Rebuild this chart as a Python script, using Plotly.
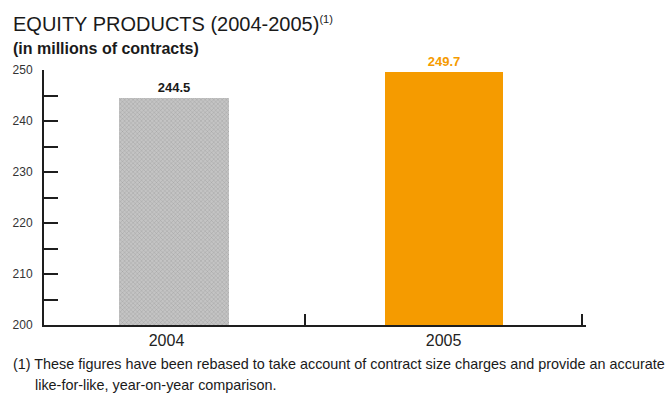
import plotly.graph_objects as go

# Equity products volume, in millions of contracts
years = ["2004", "2005"]
volumes = [244.5, 249.7]
value_labels = ["244.5", "249.7"]
bar_colors = ["#c4c4c4", "#f59b00"]
label_colors = ["#1a1a1a", "#f59b00"]

y_ticks = [200, 210, 220, 230, 240, 250]
y_tick_text = ["200", "210", "220", "230", "240", "250"]

title_text = "EQUITY PRODUCTS (2004-2005)<sup><span style='font-size:11px'>(1)</span></sup>"
subtitle_text = "<b>(in millions of contracts)</b>"
footnote_first = "(1) These figures have been rebased to take account of contract size charges and provide an accurate"
footnote_second = "like-for-like, year-on-year comparison."

FONT = "Liberation Sans, Arial, sans-serif"
AXIS = "#1e1e1e"
TEXT = "#1a1a1a"

# plot area in pixels: x 44..586, y 70..325
PW, PH = 542, 255


def px_x(px):
    return (px - 44) / PW


def px_y(py):
    return (325 - py) / PH


fig = go.Figure()
fig.add_trace(go.Bar(
    x=years,
    y=volumes,
    base=0,
    width=[0.397, 0.426],
    offset=[-0.171, -0.211],
    marker=dict(
        color=bar_colors,
        line=dict(width=0),
        pattern=dict(shape=["x", ""], size=3, solidity=0.15,
                     fgcolor="#b4b4b4", bgcolor=bar_colors),
    ),
    text=value_labels,
    textposition="outside",
    textfont=dict(family=FONT, size=13, color=label_colors),
    texttemplate="<b>%{text}</b>",
    cliponaxis=False,
    hoverinfo="skip",
))

fig.update_layout(
    width=665,
    height=396,
    margin=dict(l=44, r=79, t=70, b=71),
    paper_bgcolor="white",
    plot_bgcolor="white",
    showlegend=False,
    font=dict(family=FONT, color=TEXT),
    bargap=0,
)

fig.update_xaxes(
    type="category",
    range=[-0.442, 1.514],
    showline=True, linecolor=AXIS, linewidth=2,
    ticks="inside", tickson="boundaries", ticklen=11, tickwidth=2, tickcolor=AXIS,
    showgrid=False, zeroline=False,
    tickfont=dict(family=FONT, size=16, color="#222"),
)
fig.update_yaxes(
    range=[200, 250],
    tickvals=y_ticks, ticktext=y_tick_text,
    showline=True, linecolor=AXIS, linewidth=2,
    ticks="inside", ticklen=14, tickwidth=2, tickcolor=AXIS,
    minor=dict(ticks="inside", dtick=5, ticklen=14, tickwidth=2, tickcolor=AXIS,
               showgrid=False),
    showgrid=False, zeroline=False,
    ticklabelstandoff=7,
    tickfont=dict(family=FONT, size=12, color="#333"),
)

fig.add_annotation(
    text=title_text, xref="paper", yref="paper",
    x=px_x(11), y=px_y(24), xanchor="left", yanchor="middle",
    showarrow=False, font=dict(family=FONT, size=20, color=TEXT),
)
fig.add_annotation(
    text=subtitle_text, xref="paper", yref="paper",
    x=px_x(11), y=px_y(48), xanchor="left", yanchor="middle",
    showarrow=False, font=dict(family=FONT, size=16, color=TEXT),
)
fig.add_annotation(
    text=footnote_first, xref="paper", yref="paper",
    x=px_x(11), y=px_y(364), xanchor="left", yanchor="middle",
    showarrow=False, font=dict(family=FONT, size=14.4, color=TEXT),
)
fig.add_annotation(
    text=footnote_second, xref="paper", yref="paper",
    x=px_x(33), y=px_y(385), xanchor="left", yanchor="middle",
    showarrow=False, font=dict(family=FONT, size=14.4, color=TEXT),
)

fig.write_html("out.html")
